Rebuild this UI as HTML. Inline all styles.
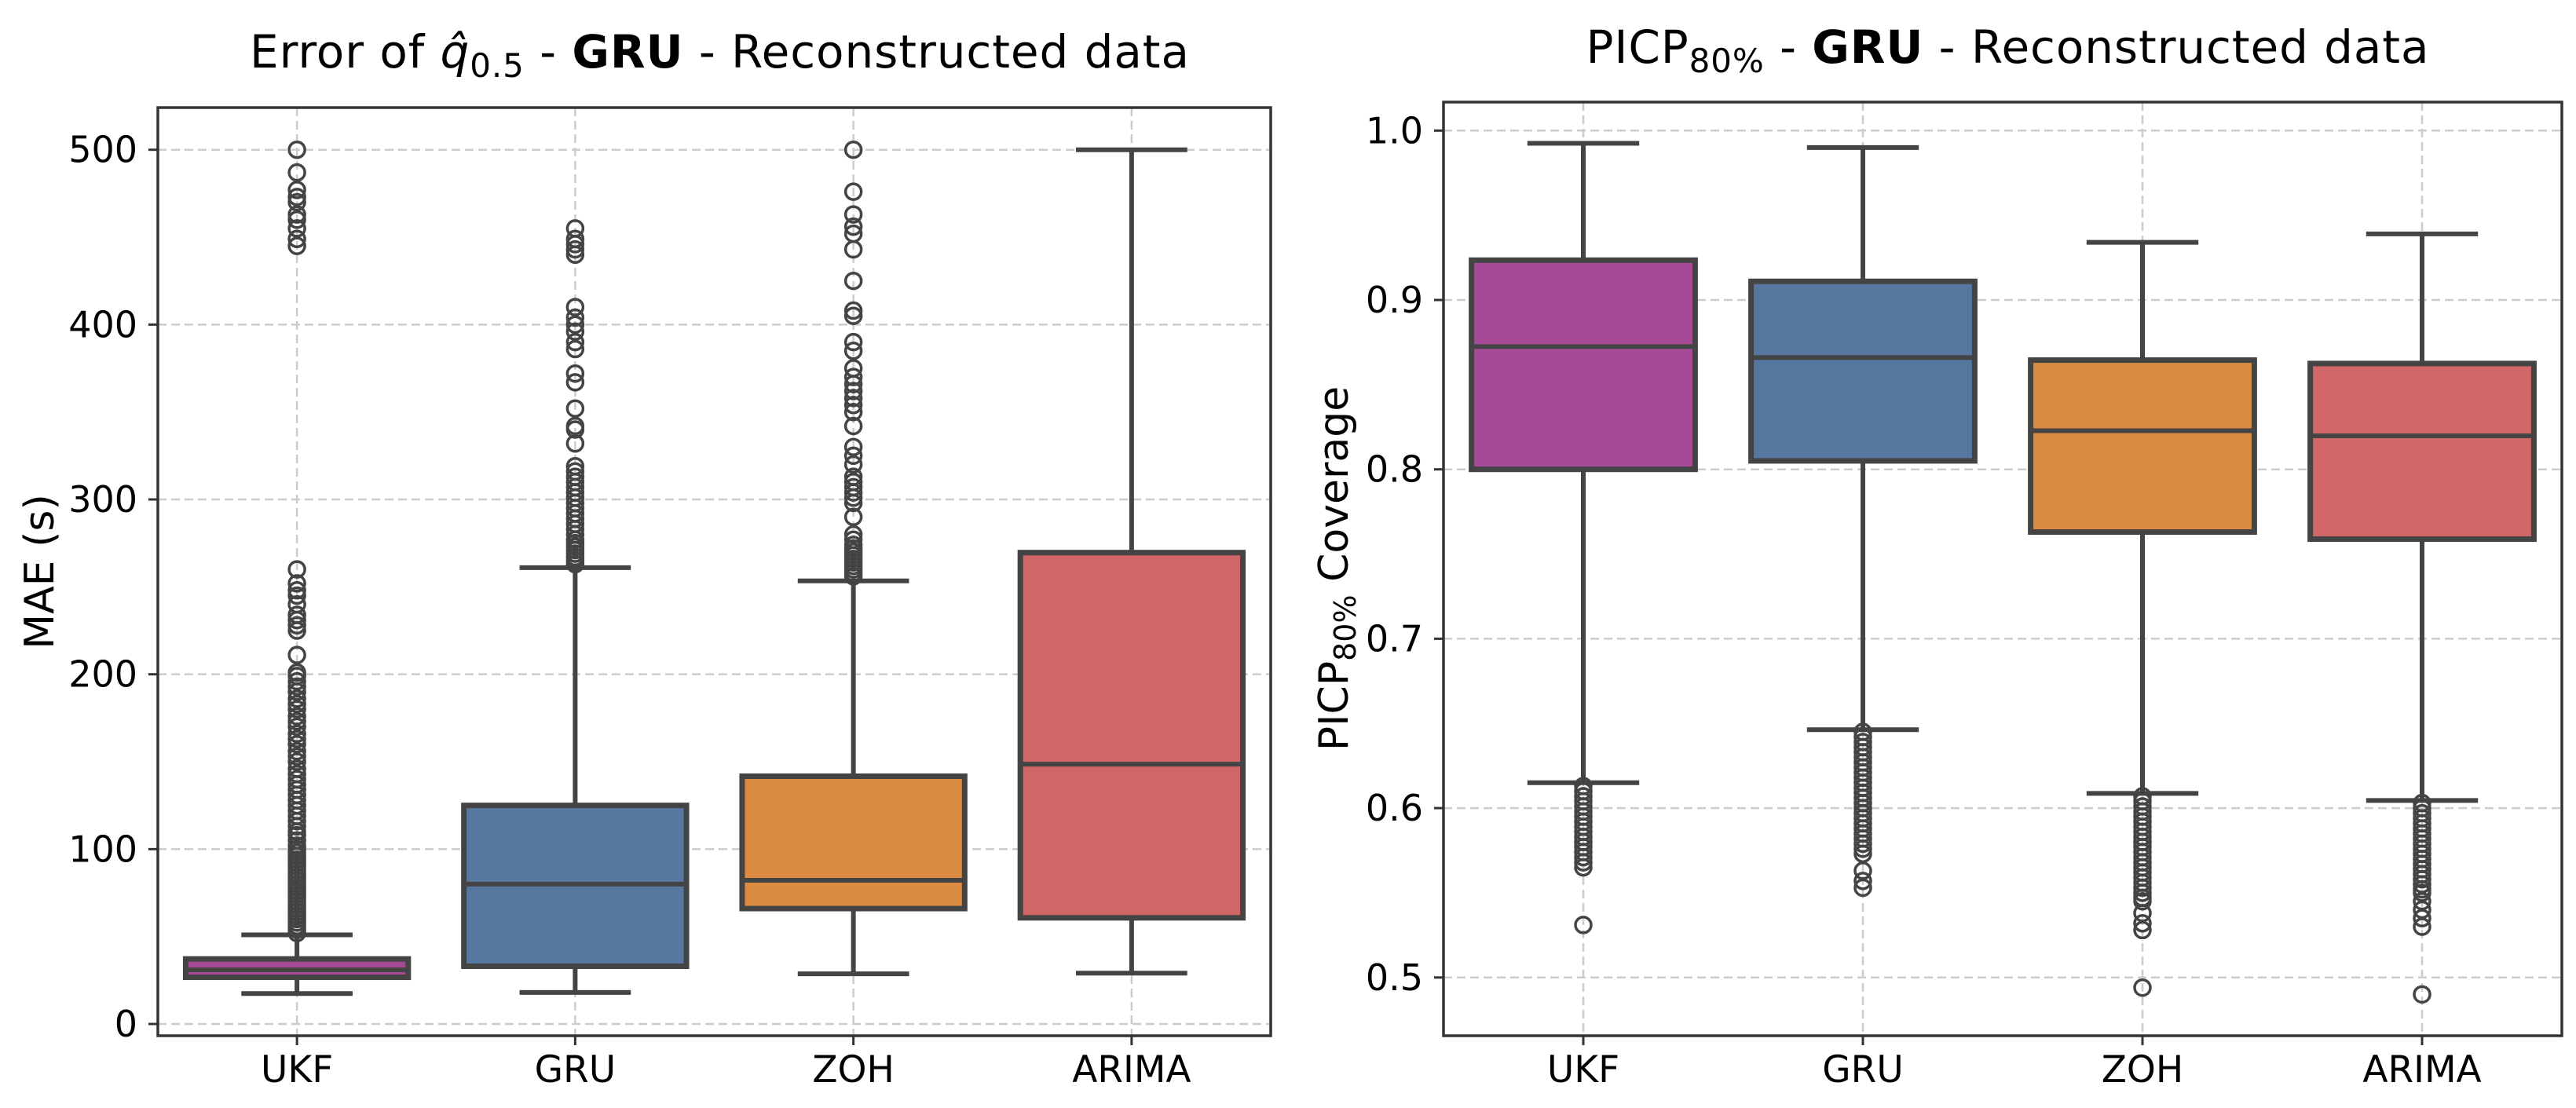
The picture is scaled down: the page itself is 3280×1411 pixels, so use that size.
<!DOCTYPE html>
<html><head><meta charset="utf-8"><style>
html,body{margin:0;padding:0;background:#fff;}
svg{display:block;}
text{font-family:"DejaVu Sans","Liberation Sans",sans-serif;fill:#000;}
</style></head><body>
<svg id="chart" width="3280" height="1411" viewBox="0 0 3280 1411" xmlns="http://www.w3.org/2000/svg">
<text x="916" y="86" font-size="58" text-anchor="middle" textLength="1196">Error of <tspan font-style="italic">q̂</tspan><tspan font-size="42" dy="12">0.5</tspan><tspan dy="-12"> - </tspan><tspan font-weight="bold">GRU</tspan> - Reconstructed data</text>
<text x="2556" y="80" font-size="58" text-anchor="middle" textLength="1073">PICP<tspan font-size="42" dy="12">80%</tspan><tspan dy="-12"> - </tspan><tspan font-weight="bold">GRU</tspan> - Reconstructed data</text>
<text transform="translate(68,728) rotate(-90)" font-size="52" text-anchor="middle">MAE (s)</text>
<text transform="translate(1716,724) rotate(-90)" font-size="52" text-anchor="middle">PICP<tspan font-size="38" dy="10">80%</tspan><tspan dy="-10"> Coverage</tspan></text>
<g id="left"></g>
<g id="right"></g>
</svg>
<script>
const categories = ["UKF","GRU","ZOH","ARIMA"];
const colors = ["#a64a98","#5677a0","#db8c41","#d06666"];
// Left: MAE
const maeWhiskLo = [17.4, 18, 28.7, 29.1];
const maeQ1 = [26.7, 33, 66, 60.7];
const maeMedian = [31, 80, 82.2, 148.6];
const maeQ3 = [37.2, 125, 141.7, 269.6];
const maeWhiskHi = [51, 261, 253.4, 500];
const maeOutUKF = [52,54,56,58,60,62,64,66,68,70,72,74,76,78,80,82,84,86,88,90,92,94,96,98,100,102,105,108,110,113,116,119,122,125,128,131,134,137,140,143,146,150,153,156,160,163,166,170,173,176,180,183,186,190,193,196,199,201,211,225,228,231,234,240,245,248,252,260,445,449,455,460,463,470,473,477,487,500];
const maeOutGRU = [263,265,267,269,271,273,275,277,280,283,286,289,292,295,298,301,304,307,310,313,316,319,332,340,342,352,367,372,386,390,396,400,404,410,440,443,446,449,455];
const maeOutZOH = [256,258,260,262,264,266,268,270,272,274,277,280,290,298,301,304,307,310,313,320,325,330,342,350,354,358,362,366,370,375,385,390,405,408,425,443,452,456,463,476,500];
const maeOutARIMA = [];
const maeTicks = [0,100,200,300,400,500];
const maeTickLabels = ["0","100","200","300","400","500"];
// Right: PICP
const picpWhiskLo = [0.615, 0.6463, 0.6087, 0.6045];
const picpQ1 = [0.800, 0.805, 0.763, 0.7588];
const picpMedian = [0.8725, 0.866, 0.8228, 0.8198];
const picpQ3 = [0.9235, 0.911, 0.8645, 0.8625];
const picpWhiskHi = [0.9925, 0.990, 0.934, 0.939];
const picpOutUKF = [0.613,0.610,0.607,0.604,0.601,0.598,0.595,0.592,0.589,0.586,0.583,0.580,0.577,0.574,0.571,0.568,0.565,0.531];
const picpOutGRU = [0.645,0.642,0.639,0.636,0.633,0.630,0.627,0.624,0.621,0.618,0.615,0.612,0.609,0.606,0.603,0.600,0.597,0.594,0.591,0.588,0.585,0.582,0.579,0.576,0.573,0.563,0.557,0.553];
const picpOutZOH = [0.607,0.604,0.601,0.598,0.595,0.592,0.589,0.586,0.583,0.580,0.577,0.574,0.571,0.568,0.565,0.562,0.559,0.556,0.553,0.550,0.547,0.545,0.538,0.532,0.528,0.494];
const picpOutARIMA = [0.603,0.600,0.597,0.594,0.591,0.588,0.585,0.582,0.579,0.576,0.573,0.570,0.567,0.564,0.561,0.558,0.555,0.552,0.550,0.545,0.540,0.535,0.530,0.490];
const picpTicks = [0.5,0.6,0.7,0.8,0.9,1.0];
const picpTickLabels = ["0.5","0.6","0.7","0.8","0.9","1.0"];

const NS = "http://www.w3.org/2000/svg";
function mk(parent, tag, attrs){
  const e = document.createElementNS(NS, tag);
  for (const k in attrs) e.setAttribute(k, attrs[k]);
  parent.appendChild(e);
  return e;
}
function drawPlot(g, ax, v0, p0, v1, p1, ticks, tickLabels, lo, q1, med, q3, hi, outs, prefix){
  const yS = v => p0 + (v - v0) * (p1 - p0) / (v1 - v0);
  const band = (ax.right - ax.left) / categories.length;
  const xS = i => ax.left + band * (i + 0.5);
  ticks.forEach((t, i) => {
    const l = mk(g, "line", {x1: ax.left, x2: ax.right, y1: yS(t), y2: yS(t), stroke: "#cccccc", "stroke-width": 2.5, "stroke-dasharray": "11 6"});
    
    
    const tk = mk(g, "line", {x1: ax.left - 12, x2: ax.left, y1: yS(t), y2: yS(t), stroke: "#333", "stroke-width": 3});
    
    
    const tx = mk(g, "text", {x: ax.left - 26, y: yS(t) + 16, "font-size": 46, "text-anchor": "end"});
    tx.textContent = tickLabels[i];
    
    
  });
  categories.forEach((c, i) => {
    const l = mk(g, "line", {x1: xS(i), x2: xS(i), y1: ax.top, y2: ax.bottom, stroke: "#cccccc", "stroke-width": 2.5, "stroke-dasharray": "11 6"});
    
    
    const tk = mk(g, "line", {x1: xS(i), x2: xS(i), y1: ax.bottom, y2: ax.bottom + 12, stroke: "#333", "stroke-width": 3});
    
    
    const tx = mk(g, "text", {x: xS(i), y: 1378, "font-size": 47, "text-anchor": "middle"});
    tx.textContent = c;
    
    
  });
  categories.forEach((c, i) => {
    const x = xS(i), w = band * 0.8, cw = band * 0.4;
    const grp = mk(g, "g", {});
    
    
    mk(grp, "line", {x1: x, x2: x, y1: yS(hi[i]), y2: yS(q3[i]), stroke: "#444", "stroke-width": 6});
    mk(grp, "line", {x1: x, x2: x, y1: yS(q1[i]), y2: yS(lo[i]), stroke: "#444", "stroke-width": 6});
    mk(grp, "line", {x1: x - cw/2, x2: x + cw/2, y1: yS(hi[i]), y2: yS(hi[i]), stroke: "#444", "stroke-width": 6});
    mk(grp, "line", {x1: x - cw/2, x2: x + cw/2, y1: yS(lo[i]), y2: yS(lo[i]), stroke: "#444", "stroke-width": 6});
    mk(grp, "rect", {x: x - w/2, y: yS(q3[i]), width: w, height: yS(q1[i]) - yS(q3[i]), fill: colors[i], stroke: "#444", "stroke-width": 7});
    mk(grp, "line", {x1: x - w/2, x2: x + w/2, y1: yS(med[i]), y2: yS(med[i]), stroke: "#444", "stroke-width": 6});
    outs[i].forEach(v => {
      const o = mk(grp, "circle", {cx: x, cy: yS(v), r: 10, fill: "none", stroke: "#444", "stroke-width": 3.5});
      
      
    });
  });
  const fr = mk(g, "rect", {x: ax.left, y: ax.top, width: ax.right - ax.left, height: ax.bottom - ax.top, fill: "none", stroke: "#333", "stroke-width": 3.5});
  
  
}
drawPlot(document.getElementById("left"), {left: 201, right: 1618, top: 137, bottom: 1319},
  0, 1304, 500, 190.7, maeTicks, maeTickLabels, maeWhiskLo, maeQ1, maeMedian, maeQ3, maeWhiskHi,
  [maeOutUKF, maeOutGRU, maeOutZOH, maeOutARIMA], "mae");
drawPlot(document.getElementById("right"), {left: 1838, right: 3262, top: 130, bottom: 1319},
  1.0, 166.3, 0.5, 1244.8, picpTicks, picpTickLabels, picpWhiskLo, picpQ1, picpMedian, picpQ3, picpWhiskHi,
  [picpOutUKF, picpOutGRU, picpOutZOH, picpOutARIMA], "picp");
</script>
</body></html>
